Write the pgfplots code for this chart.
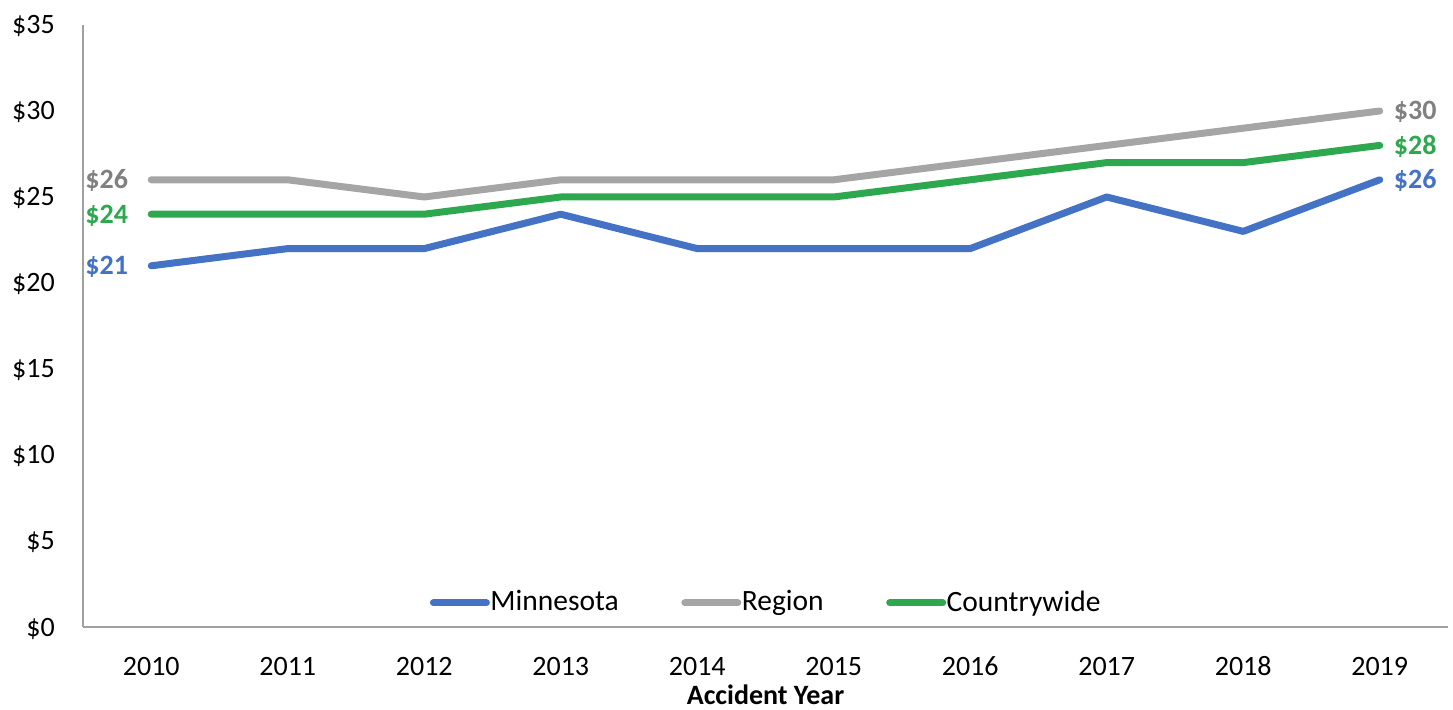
\documentclass[border=0pt]{standalone}
\usepackage{fontspec}
\setmainfont{Carlito}
\usepackage{pgfplots}
\pgfplotsset{compat=1.18}
\definecolor{mnblue}{HTML}{4472C4}
\definecolor{reggray}{HTML}{A5A5A5}
\definecolor{cwgreen}{HTML}{2EA84F}
\definecolor{labgray}{HTML}{808080}
\definecolor{axgray}{HTML}{A0A0A0}
\begin{document}
\fontsize{28bp}{34bp}\selectfont
\begin{tikzpicture}
\path[use as bounding box] (0,0) rectangle (1453bp,710bp);
\begin{axis}[
  at={(83bp,83bp)}, anchor=south west,
  scale only axis, width=1365bp, height=602bp,
  xmin=-0.5, xmax=9.5, ymin=0, ymax=35,
  axis x line*=bottom, axis y line*=left,
  axis line style={axgray, line width=1.5bp, -},
  xtick={0,...,9},
  xticklabels={2010,2011,2012,2013,2014,2015,2016,2017,2018,2019},
  ytick={0,5,...,35},
  yticklabels={\$0,\$5,\$10,\$15,\$20,\$25,\$30,\$35},
  major tick length=0pt,
  tick label style={font=\fontsize{28bp}{34bp}\selectfont, text=black, inner sep=0pt},
  xticklabel style={anchor=base, yshift=-48bp},
  yticklabel style={anchor=base east, xshift=-28bp, yshift=-9bp},
  xlabel={\textbf{Accident Year}},
  xlabel style={at={(axis description cs:0.5,0)}, anchor=base, yshift=-77bp, inner sep=0pt, font=\fontsize{28bp}{34bp}\selectfont},
  legend columns=3,
  legend style={at={(0.5,0.04)}, anchor=center, draw=none, fill=none,
    font=\fontsize{29.5bp}{35bp}\selectfont,
    nodes={inner sep=0.5bp},
    /tikz/every even column/.append style={column sep=62bp}},
  legend image code/.code={\draw[#1, line width=7bp, line cap=round] (0bp,0bp) -- (53bp,0bp);},
  every axis plot/.append style={line width=7bp, line cap=round, line join=round, no markers},
  clip=false,
]
\addplot[mnblue] coordinates {(0,21) (1,22) (2,22) (3,24) (4,22) (5,22) (6,22) (7,25) (8,23) (9,26)};
\addlegendentry{Minnesota}
\addplot[reggray] coordinates {(0,26) (1,26) (2,25) (3,26) (4,26) (5,26) (6,27) (7,28) (8,29) (9,30)};
\addlegendentry{Region}
\addplot[cwgreen] coordinates {(0,24) (1,24) (2,24) (3,25) (4,25) (5,25) (6,26) (7,27) (8,27) (9,28)};
\addlegendentry{Countrywide}
\node[anchor=base east, inner sep=0pt, xshift=-23bp, yshift=-9bp, text=labgray] at (axis cs:0,26) {\textbf{\$26}};
\node[anchor=base east, inner sep=0pt, xshift=-23bp, yshift=-9bp, text=cwgreen] at (axis cs:0,24) {\textbf{\$24}};
\node[anchor=base east, inner sep=0pt, xshift=-23bp, yshift=-9bp, text=mnblue] at (axis cs:0,21) {\textbf{\$21}};
\node[anchor=base west, inner sep=0pt, xshift=14bp, yshift=-9bp, text=labgray] at (axis cs:9,30) {\textbf{\$30}};
\node[anchor=base west, inner sep=0pt, xshift=14bp, yshift=-9bp, text=cwgreen] at (axis cs:9,28) {\textbf{\$28}};
\node[anchor=base west, inner sep=0pt, xshift=14bp, yshift=-9bp, text=mnblue] at (axis cs:9,26) {\textbf{\$26}};
\end{axis}
\end{tikzpicture}
\end{document}
